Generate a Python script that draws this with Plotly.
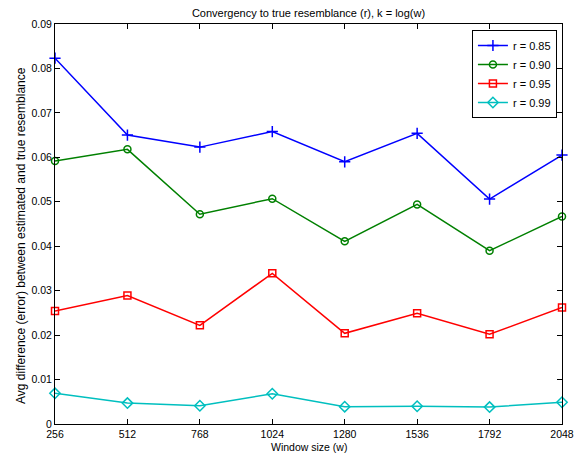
import plotly.graph_objects as go

# Window sizes (w) on the x axis
window_sizes = [256, 512, 768, 1024, 1280, 1536, 1792, 2048]

# Average absolute error between estimated and true resemblance, one series per r
err_r085 = [0.0823, 0.0650, 0.0623, 0.0658, 0.0590, 0.0654, 0.0506, 0.0605]
err_r090 = [0.0592, 0.0618, 0.0472, 0.0507, 0.0411, 0.0494, 0.0390, 0.0467]
err_r095 = [0.0254, 0.0289, 0.0222, 0.0339, 0.0204, 0.0249, 0.0202, 0.0262]
err_r099 = [0.0069, 0.0047, 0.0041, 0.0068, 0.0039, 0.0040, 0.0038, 0.0049]

series_names = ["r = 0.85", "r = 0.90", "r = 0.95", "r = 0.99"]
y_ticks = [0, 0.01, 0.02, 0.03, 0.04, 0.05, 0.06, 0.07, 0.08, 0.09]
y_tick_text = ["0", "0.01", "0.02", "0.03", "0.04", "0.05", "0.06", "0.07", "0.08", "0.09"]

styles = [
    ("#0000FF", "cross-thin-open", 8),
    ("#008000", "circle-open", 7),
    ("#FF0000", "square-open", 7),
    ("#00BFBF", "diamond-open", 8),
]

FONT = "Liberation Sans, Arial, Helvetica, sans-serif"
FIG_H = 457

fig = go.Figure()
for name, values, (color, symbol, size) in zip(series_names,
                                               [err_r085, err_r090, err_r095, err_r099],
                                               styles):
    fig.add_trace(go.Scatter(
        x=window_sizes, y=values, name=name, mode="lines+markers",
        line=dict(color=color, width=1.5),
        marker=dict(symbol=symbol, size=size, color=color,
                    line=dict(color=color, width=1.5)),
        cliponaxis=False,
    ))

axis_common = dict(
    showline=True, linecolor="black", linewidth=1, mirror="ticks",
    ticks="inside", ticklen=5, tickwidth=1, tickcolor="black",
    showgrid=False, zeroline=False, automargin=False,
    tickfont=dict(family=FONT, size=10.5, color="black"),
)

fig.update_layout(
    template="none",
    width=587, height=FIG_H,
    margin=dict(l=55, r=25, t=24, b=33, autoexpand=False),
    paper_bgcolor="white", plot_bgcolor="white",
    font=dict(family=FONT, size=11, color="black"),
    title=dict(text="Convergency to true resemblance (r), k = log(w)",
               x=0.5, xref="paper", xanchor="center",
               y=1 - 13 / FIG_H, yref="container", yanchor="middle",
               font=dict(family=FONT, size=11, color="black")),
    xaxis=dict(range=[256, 2048], tickvals=window_sizes,
               ticktext=[str(w) for w in window_sizes], **axis_common),
    yaxis=dict(range=[0, 0.09], tickvals=y_ticks, ticktext=y_tick_text,
               **axis_common),
    legend=dict(x=0.99, y=0.985, xanchor="right", yanchor="top",
                bgcolor="white", bordercolor="black", borderwidth=1,
                font=dict(family=FONT, size=11, color="black"),
                itemwidth=30, tracegroupgap=0),
    showlegend=True,
)

# Axis titles
fig.add_annotation(text="Window size (w)", xref="paper", yref="paper",
                   x=0.5, y=0, yshift=-23, xanchor="center", yanchor="middle",
                   showarrow=False, font=dict(family=FONT, size=10.5, color="black"))
fig.add_annotation(text="Avg difference (error) between estimated and true resemblance",
                   xref="paper", yref="paper", x=0, y=0.47, xshift=-34,
                   xanchor="center", yanchor="middle", textangle=-90,
                   showarrow=False, font=dict(family=FONT, size=12, color="black"))

fig.write_html("out.html")
